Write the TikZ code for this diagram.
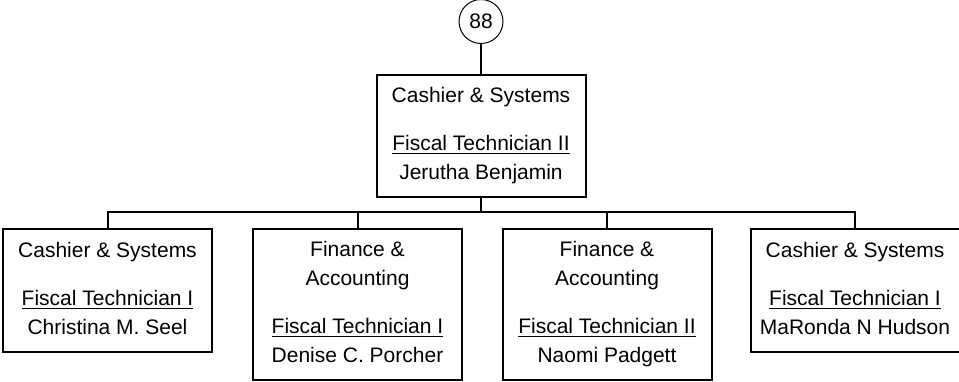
\documentclass[tikz,border=0pt]{standalone}
\usepackage{fontspec}
\setmainfont{Liberation Sans}
\begin{document}
\begin{tikzpicture}[x=0.5pt,y=-0.5pt,
    post/.style={draw,line width=1pt,align=center,minimum width=104.5pt,
        text depth=2.3pt,font=\fontsize{10.5}{14.5}\selectfont},
    tag/.style={draw,circle,line width=0.5pt,minimum size=22pt,inner sep=0pt,
        font=\fontsize{10.5}{12}\selectfont},
    link/.style={line width=1pt}]
    \useasboundingbox (0,0) rectangle (959,381);
    % Number
        \node[tag] (num) at (481,21.5) {88};
    % Head
        \node[post,minimum height=61pt] (head) at (481,136)
            {Cashier \& Systems\\[9.5pt]\underline{Fiscal Technician II}\\Jerutha Benjamin};
    % Staff
        \node[post,minimum height=61.5pt] (cs1) at (107.5,290.5)
            {Cashier \& Systems\\[9.5pt]\underline{Fiscal Technician I}\\Christina M. Seel};
        \node[post,minimum height=75.5pt] (fa1) at (357.5,304.5)
            {Finance \&\\Accounting\\[9.5pt]\underline{Fiscal Technician I}\\Denise C. Porcher};
        \node[post,minimum height=75.5pt] (fa2) at (607,304.5)
            {Finance \&\\Accounting\\[9.5pt]\underline{Fiscal Technician II}\\Naomi Padgett};
        \node[post,minimum height=61.5pt] (cs2) at (855,290.5)
            {Cashier \& Systems\\[9.5pt]\underline{Fiscal Technician I}\\MaRonda N Hudson};
    % Lines
        \coordinate (bus) at (481,212);
        \draw[link] (num) -- (head);
        \draw[link] (head) -- (bus);
        \draw[link] (cs1.north) |- (bus) -| (cs2.north);
        \foreach \n in {fa1,fa2}{
            \draw[link] (\n.north) -- (\n.north |- bus);
        }
\end{tikzpicture}
\end{document}
